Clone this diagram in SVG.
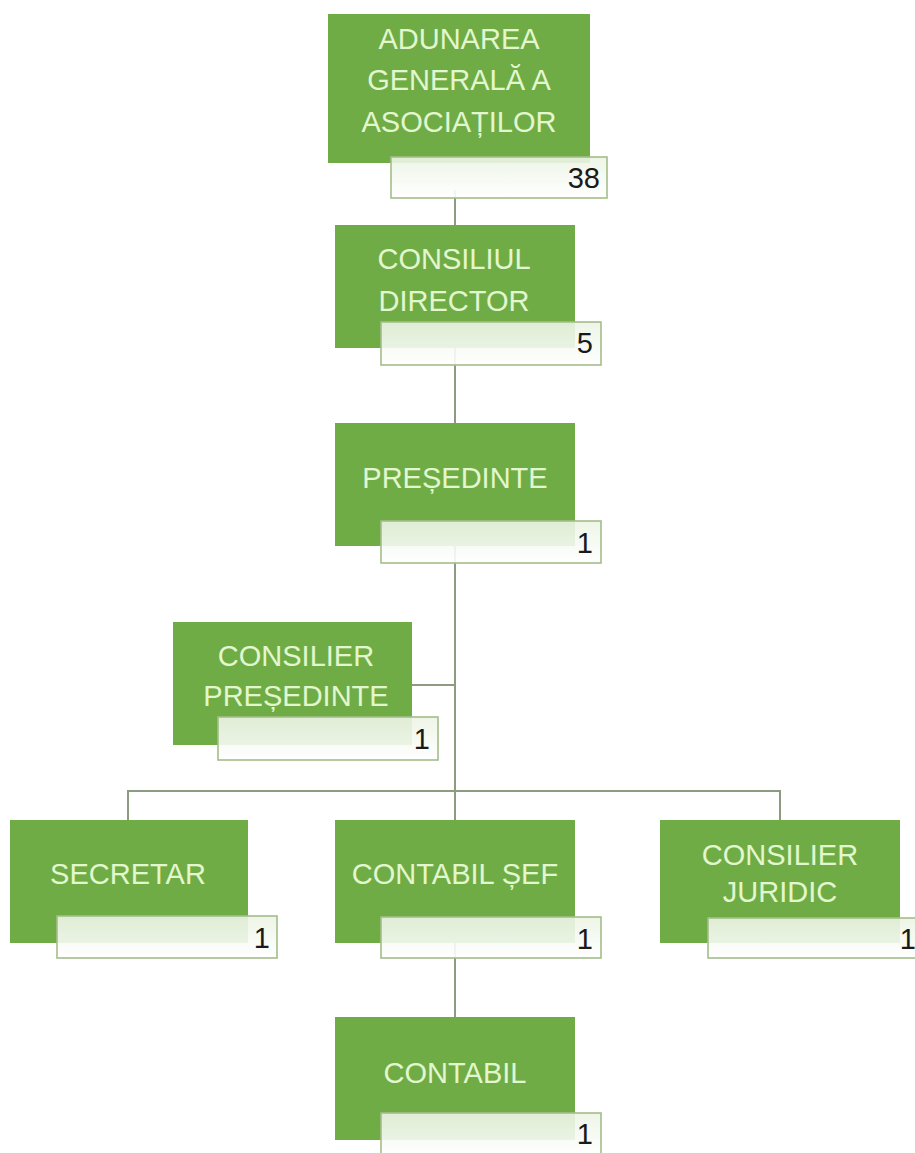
<svg xmlns="http://www.w3.org/2000/svg" width="915" height="1153" viewBox="0 0 915 1153">
<defs>
<linearGradient id="lg" x1="0" y1="0" x2="0" y2="1">
<stop offset="0" stop-color="#ecf4e4"/>
<stop offset="1" stop-color="#ffffff"/>
</linearGradient>
<style>
.g{fill:#6fac46;}
.lb{fill:url(#lg);fill-opacity:0.9;stroke:#a3bd8a;stroke-width:1.6;}
.t{font-family:"Liberation Sans",Arial,sans-serif;font-size:29px;fill:#e3f7cf;text-anchor:middle;}
.n{font-family:"Liberation Sans",Arial,sans-serif;font-size:29px;fill:#1a1a1a;text-anchor:end;}
.c{stroke:#8d9c80;stroke-width:2;fill:none;}
</style>
</defs>
<rect width="915" height="1153" fill="#ffffff"/>
<g id="connectors">
<line class="c" x1="455" y1="190" x2="455" y2="1020"/>
<line class="c" x1="405" y1="685" x2="455" y2="685"/>
<polyline class="c" points="128,822 128,791 780,791 780,822"/>
</g>
<g id="n-adunarea">
<rect class="g" x="328" y="14" width="262" height="149"/>
<text class="t" x="459" y="49">ADUNAREA</text>
<text class="t" x="459" y="90">GENERALĂ A</text>
<text class="t" x="459" y="132">ASOCIAȚILOR</text>
<rect class="lb" x="391" y="157" width="216" height="41"/>
<text class="n" x="600" y="188">38</text>
</g>
<g id="n-consiliul">
<rect class="g" x="335" y="225" width="240" height="123"/>
<text class="t" x="454" y="269">CONSILIUL</text>
<text class="t" x="454" y="311">DIRECTOR</text>
<rect class="lb" x="381" y="322" width="220" height="43"/>
<text class="n" x="593" y="353">5</text>
</g>
<g id="n-presedinte">
<rect class="g" x="335" y="423" width="240" height="123"/>
<text class="t" x="455" y="488">PREȘEDINTE</text>
<rect class="lb" x="381" y="521" width="220" height="42"/>
<text class="n" x="593" y="553">1</text>
</g>
<g id="n-consilier-presedinte">
<rect class="g" x="173" y="622" width="239" height="123"/>
<text class="t" x="296" y="666">CONSILIER</text>
<text class="t" x="296" y="706">PREȘEDINTE</text>
<rect class="lb" x="218" y="717" width="220" height="43"/>
<text class="n" x="430" y="749">1</text>
</g>
<g id="n-secretar">
<rect class="g" x="10" y="820" width="238" height="123"/>
<text class="t" x="128" y="884">SECRETAR</text>
<rect class="lb" x="57" y="916" width="220" height="42"/>
<text class="n" x="270" y="948">1</text>
</g>
<g id="n-contabil-sef">
<rect class="g" x="335" y="820" width="240" height="123"/>
<text class="t" x="455" y="884">CONTABIL ȘEF</text>
<rect class="lb" x="381" y="917" width="220" height="41"/>
<text class="n" x="593" y="949">1</text>
</g>
<g id="n-consilier-juridic">
<rect class="g" x="660" y="820" width="240" height="123"/>
<text class="t" x="780" y="865">CONSILIER</text>
<text class="t" x="780" y="902">JURIDIC</text>
<rect class="lb" x="708" y="918" width="222" height="40"/>
<text class="n" x="916" y="949">1</text>
</g>
<g id="n-contabil">
<rect class="g" x="335" y="1017" width="240" height="123"/>
<text class="t" x="455" y="1083">CONTABIL</text>
<rect class="lb" x="381" y="1113" width="220" height="42"/>
<text class="n" x="593" y="1144">1</text>
</g>
</svg>
